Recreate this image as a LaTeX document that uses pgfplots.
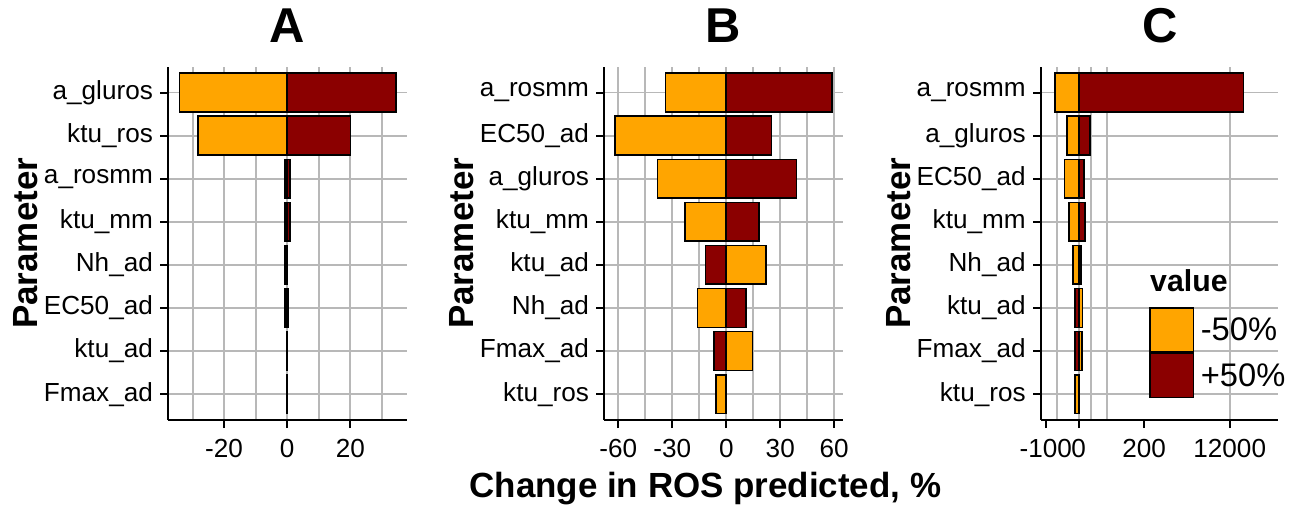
\documentclass[border=0pt]{standalone}
\usepackage{fontspec}
\setmainfont{Liberation Sans}
\usepackage{pgfplots}
\pgfplotsset{compat=1.18}
\definecolor{barlo}{HTML}{FFA500}
\definecolor{barhi}{HTML}{8B0000}
\definecolor{gridc}{RGB}{184,184,184}

\pgfplotsset{
  tornado/.style={
    scale only axis, width=178.7pt, height=265pt, anchor=south west,
    xbar, bar shift=0pt, bar width=0.9,
    ymin=0.4, ymax=8.6, ytick={1,...,8},
    axis lines*=left, axis line style={line width=1.5pt,-},
    major tick style={line width=1.5pt,black}, major tick length=6pt, tick align=outside,
    minor tick length=0pt,
    ymajorgrids, xmajorgrids, xminorgrids,
    major grid style={gridc,line width=1.4pt},
    minor grid style={gridc,line width=1.4pt},
    ticklabel style={font=\fontsize{19.6}{21}\selectfont},
    xticklabel style={yshift=-5pt},
    yticklabel style={xshift=-2pt},
    ylabel={Parameter},
    ylabel style={font=\bfseries\fontsize{26.2}{28}\selectfont,
      at={(axis description cs:-0.6,0.5)}, anchor=center},
    title style={font=\bfseries\fontsize{36.7}{40}\selectfont,
      at={(axis description cs:0.5,1.047)}, anchor=base},
    every axis plot/.append style={draw=black, line width=1.2pt},
  },
  boxlegend/.style={legend image code/.code={%
    \draw[##1] (0pt,-16.5pt) rectangle (32.5pt,16.5pt);}},
}

\begin{document}
\begin{tikzpicture}
\path[use as bounding box] (0,0) rectangle (977.25pt,-379.5pt);

% panel A
\begin{axis}[tornado, at={(126.2pt,-315pt)}, title={A},
  xmin=-37.7, xmax=37.8,
  xtick={-20,0,20}, xticklabels={-20,0,20}, minor xtick={-30,-10,10,30},
  yticklabels={Fmax\_ad,ktu\_ad,EC50\_ad,Nh\_ad,ktu\_mm,a\_rosmm,ktu\_ros,a\_gluros}]
\addplot[fill=barlo] coordinates {
  (-34.2,8) (-28.3,7) (-0.7,6) (-0.7,5) (-0.8,4) (-0.7,3) (-0.1,2) (0.05,1)};
\addplot[fill=barhi] coordinates {
  (34.4,8) (20.1,7) (0.8,6) (0.8,5) (0.1,4) (0.3,3) (0.1,2) (-0.05,1)};
\end{axis}

% panel B
\begin{axis}[tornado, at={(453.2pt,-315pt)}, title={B},
  xmin=-67.8, xmax=64.6,
  xtick={-60,-30,0,30,60}, xticklabels={-60,-30,0,30,60}, minor xtick={-45,-15,15,45},
  yticklabels={ktu\_ros,Fmax\_ad,Nh\_ad,ktu\_ad,ktu\_mm,a\_gluros,EC50\_ad,a\_rosmm}]
\addplot[fill=barlo] coordinates {
  (-33.7,8) (-61.7,7) (-38.3,6) (-22.8,5) (22.0,4) (-15.9,3) (14.6,2) (-5.7,1)};
\addplot[fill=barhi] coordinates {
  (58.9,8) (25.2,7) (39.1,6) (18.3,5) (-11.5,4) (11.1,3) (-6.7,2) (0.2,1)};
\end{axis}

% panel C (axis drawn in its own stretched units, labelled as in the figure)
\begin{axis}[tornado, at={(780.75pt,-315pt)}, width=178pt, title={C},
  xmin=-37.7, xmax=199.6, xmajorgrids=false,
  xtick={-33,0,65.5,151}, xticklabels={-100,0,200,12000},
  minor xtick={-22,0,12.3,28.6,151},
  yticklabels={ktu\_ros,Fmax\_ad,ktu\_ad,Nh\_ad,ktu\_mm,EC50\_ad,a\_gluros,a\_rosmm},
  legend style={at={(axis description cs:0.455,0.32)}, anchor=north west,
    draw=none, fill=none, inner sep=0pt, row sep=0pt, column sep=3pt,
    font=\fontsize{24.5}{27}\selectfont, cells={anchor=west}},
  legend cell align=left]
\addplot[fill=barlo, boxlegend] coordinates {
  (-23.9,8) (-12.0,7) (-14.2,6) (-9.6,5) (-5.6,4) (3.8,3) (3.2,2) (-3.6,1)};
\addlegendentry{-50\%}
\addplot[fill=barhi, boxlegend] coordinates {
  (164.8,8) (11.5,7) (5.2,6) (6.5,5) (2.2,4) (-3.6,3) (-3.6,2) (0.5,1)};
\addlegendentry{+50\%}
\node[anchor=base west, inner sep=0pt, font=\bfseries\fontsize{22.7}{24}\selectfont]
  at (axis description cs:0.459,0.363) {value};
\end{axis}

\node[anchor=base, font=\bfseries\fontsize{26.2}{28}\selectfont]
  at (529pt,-373pt) {Change in ROS predicted, \%};
\end{tikzpicture}
\end{document}
